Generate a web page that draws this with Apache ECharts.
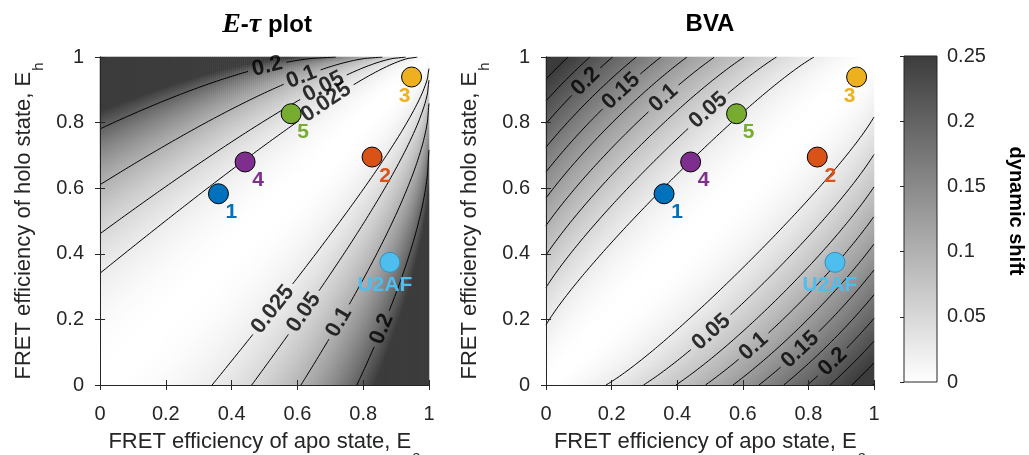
<!DOCTYPE html>
<html>
<head>
<meta charset="utf-8">
<title>Dynamic shift maps</title>
<script src="https://cdn.jsdelivr.net/npm/echarts@6/dist/echarts.min.js"></script>
<style>
  html, body { margin: 0; padding: 0; background: #ffffff; }
  #chart { width: 1029px; height: 455px; }
</style>
</head>
<body>
<div id="chart"></div>
<script>
// ---------- data ----------
const SAMPLE_NAMES  = ['1', '2', '3', '4', '5', 'U2AF'];
const SAMPLE_EA     = [0.360, 0.827, 0.947, 0.441, 0.581, 0.881];
const SAMPLE_EH     = [0.583, 0.695, 0.939, 0.680, 0.827, 0.374];
const SAMPLE_COLORS = ['#0072BD', '#D95319', '#EDB120', '#7E2F8E', '#77AC30', '#4DBEEE'];

const EFF_TICKS   = [0, 0.2, 0.4, 0.6, 0.8, 1];
const SHIFT_TICKS = [0, 0.05, 0.1, 0.15, 0.2, 0.25];

const ETAU_LEVELS = [0.025, 0.05, 0.1, 0.2];
const BVA_LEVELS  = [0.025, 0.05, 0.075, 0.1, 0.125, 0.15, 0.175, 0.2, 0.225, 0.25, 0.275];

// contour label anchors (level, Ea, Eh)
const ETAU_LABEL_LEVELS = [0.2, 0.1, 0.05, 0.025, 0.025, 0.05, 0.1, 0.2];
const ETAU_LABEL_EA     = [0.512, 0.618, 0.684, 0.689, 0.527, 0.623, 0.724, 0.861];
const ETAU_LABEL_EH     = [0.964, 0.929, 0.903, 0.858, 0.229, 0.219, 0.193, 0.168];
const BVA_LABEL_LEVELS  = [0.2, 0.15, 0.1, 0.05, 0.05, 0.1, 0.15, 0.2];
const BVA_LABEL_EA      = [0.124, 0.231, 0.358, 0.500, 0.500, 0.632, 0.769, 0.871];
const BVA_LABEL_EH      = [0.918, 0.893, 0.873, 0.832, 0.164, 0.118, 0.113, 0.072];

// photons per BVA window
const BVA_WINDOW_PHOTONS = 5;

// ---------- styling ----------
const FONT = '"Liberation Sans", Arial, Helvetica, sans-serif';
const INK = '#262626';
const SHADE_COLORS = ['#ffffff', '#3c3c3c'];
const SAMPLE_LABEL_OFFSETS = [[13, 18], [13, 19], [-7, 19], [13, 18], [12, 18], [-5, 23]];
const SAMPLE_BORDERS = ['#000', '#000', '#000', '#000', '#000', '#3a8cb8'];
const HEAT_CELLS = 164;
const CONTOUR_GRID = 240;
const CONTOUR_FONT_SIZE = 22;
const TICK_FONT_SIZE = 20;
const NAME_FONT_SIZE = 22;

// ---------- dynamic shift models ----------
// E-tau: largest perpendicular distance of the two-state dynamic line from the static line
function etauShift(ea, eh) {
  const a = Math.sqrt(Math.max(0, 1 - ea));
  const b = Math.sqrt(Math.max(0, 1 - eh));
  return (a - b) * (a - b) / Math.SQRT2;
}
// BVA: largest excess of the dynamic standard deviation over the shot-noise limit
function bvaShift(ea, eh) {
  const n = BVA_WINDOW_PHOTONS;
  const d2 = (ea - eh) * (ea - eh);
  let best = 0;
  for (let k = 1; k < 64; k++) {
    const x = k / 64;
    const m = x * ea + (1 - x) * eh;
    const s2 = Math.max(0, m * (1 - m) / n);
    const v = Math.sqrt(s2 + x * (1 - x) * d2 * (1 - 1 / n)) - Math.sqrt(s2);
    if (v > best) best = v;
  }
  return best;
}

const PLOTS = [
  { left: 100, top: 57, width: 329, height: 328, fn: etauShift, levels: ETAU_LEVELS,
    labelLevels: ETAU_LABEL_LEVELS, labelEa: ETAU_LABEL_EA, labelEh: ETAU_LABEL_EH },
  { left: 546, top: 57, width: 328, height: 328, fn: bvaShift, levels: BVA_LEVELS,
    labelLevels: BVA_LABEL_LEVELS, labelEa: BVA_LABEL_EA, labelEh: BVA_LABEL_EH }
];
const CBAR = { left: 904, top: 56, width: 33, height: 326 };

// ---------- helpers ----------
function heatData(fn) {
  const cmax = SHIFT_TICKS[SHIFT_TICKS.length - 1];
  const out = [];
  for (let i = 0; i < HEAT_CELLS; i++) {
    for (let j = 0; j < HEAT_CELLS; j++) {
      const v = fn((i + 0.5) / HEAT_CELLS, (j + 0.5) / HEAT_CELLS);
      out.push([i, j, Math.min(v, cmax)]);
    }
  }
  return out;
}

function sampleGrid(fn, M) {
  const W = M + 1;
  const v = new Float64Array(W * W);
  for (let j = 0; j <= M; j++) for (let i = 0; i <= M; i++) v[j * W + i] = fn(i / M, j / M);
  return v;
}

// marching squares, segments chained into polylines
function traceContour(vals, M, level) {
  const W = M + 1;
  const V = (i, j) => vals[j * W + i];
  const pts = new Map();
  const adj = new Map();
  function cross(i1, j1, i2, j2) {
    const a = V(i1, j1), b = V(i2, j2);
    if ((a < level) === (b < level)) return null;
    const k = i1 + ',' + j1 + ',' + i2 + ',' + j2;
    if (!pts.has(k)) {
      const t = (level - a) / (b - a);
      pts.set(k, [(i1 + t * (i2 - i1)) / M, (j1 + t * (j2 - j1)) / M]);
    }
    return k;
  }
  function link(p, q) {
    if (!adj.has(p)) adj.set(p, []);
    if (!adj.has(q)) adj.set(q, []);
    adj.get(p).push(q);
    adj.get(q).push(p);
  }
  for (let j = 0; j < M; j++) {
    for (let i = 0; i < M; i++) {
      const b = cross(i, j, i + 1, j);
      const r = cross(i + 1, j, i + 1, j + 1);
      const t = cross(i, j + 1, i + 1, j + 1);
      const l = cross(i, j, i, j + 1);
      const e = [b, r, t, l].filter(Boolean);
      if (e.length === 2) link(e[0], e[1]);
      else if (e.length === 4) {
        const c = (V(i, j) + V(i + 1, j) + V(i + 1, j + 1) + V(i, j + 1)) / 4;
        if ((c < level) === (V(i, j) < level)) { link(b, r); link(t, l); }
        else { link(l, b); link(r, t); }
      }
    }
  }
  const seen = new Set();
  const lines = [];
  function walk(start) {
    const line = [start];
    seen.add(start);
    let cur = start;
    while (true) {
      const nx = adj.get(cur).filter(n => !seen.has(n));
      if (!nx.length) break;
      cur = nx[0];
      seen.add(cur);
      line.push(cur);
    }
    if (line.length > 2 && adj.get(cur).includes(start)) line.push(start);
    return line.map(k => pts.get(k));
  }
  adj.forEach((n, k) => { if (n.length === 1 && !seen.has(k)) lines.push(walk(k)); });
  adj.forEach((n, k) => { if (!seen.has(k)) lines.push(walk(k)); });
  return lines;
}

function textHalfWidth(txt) {
  let w = 0;
  for (const ch of txt) w += (ch === '.' ? 0.278 : 0.556);
  return w * CONTOUR_FONT_SIZE / 2;
}

function placeLabel(lines, tx, ty, plot, text) {
  let best = null;
  lines.forEach((ln, li) => ln.forEach((p, pi) => {
    const dx = (p[0] - tx) * plot.width, dy = (p[1] - ty) * plot.height;
    const d = dx * dx + dy * dy;
    if (!best || d < best.d) best = { d, li, pi };
  }));
  if (!best) return { lines, label: null };
  const ln = lines[best.li];
  const a = ln[Math.max(0, best.pi - 5)], b = ln[Math.min(ln.length - 1, best.pi + 5)];
  let ang = Math.atan2((b[1] - a[1]) * plot.height, (b[0] - a[0]) * plot.width) * 180 / Math.PI;
  if (ang > 90) ang -= 180;
  if (ang <= -90) ang += 180;
  const c = ln[best.pi];
  const r = textHalfWidth(text) + 4;
  const out = [];
  lines.forEach(l => {
    let cur = [];
    l.forEach(p => {
      const dx = (p[0] - c[0]) * plot.width, dy = (p[1] - c[1]) * plot.height;
      if (dx * dx + dy * dy < r * r) { if (cur.length > 1) out.push(cur); cur = []; }
      else cur.push(p);
    });
    if (cur.length > 1) out.push(cur);
  });
  return { lines: out, label: { value: [c[0], c[1]], label: { formatter: text, rotate: ang } } };
}

// ---------- build option ----------
const cats = Array.from({ length: HEAT_CELLS }, (_, i) => String(i));
const grids = [], xAxes = [], yAxes = [], series = [];

function gridBox(b) {
  return { left: b.left, top: b.top, width: b.width, height: b.height,
           containLabel: false, outerBoundsMode: 'none' };
}

const axisNameRich = {
  m: { fontSize: NAME_FONT_SIZE, fontFamily: FONT, color: INK, lineHeight: 25, verticalAlign: 'top' },
  s: { fontSize: 15, fontFamily: FONT, color: INK, lineHeight: 15, padding: [18, 0, 0, 1], verticalAlign: 'top' }
};

PLOTS.forEach((p) => {
  // heatmap grid (category slots)
  grids.push(gridBox(p));
  const hg = grids.length - 1;
  xAxes.push({ gridIndex: hg, type: 'category', data: cats, show: false });
  yAxes.push({ gridIndex: hg, type: 'category', data: cats, show: false });
  series.push({
    type: 'heatmap', xAxisIndex: xAxes.length - 1, yAxisIndex: yAxes.length - 1,
    data: heatData(p.fn), progressive: 0, silent: true, z: 1,
    emphasis: { disabled: true }
  });
});

PLOTS.forEach((p) => {
  grids.push(gridBox(p));
  const g = grids.length - 1;
  const common = {
    gridIndex: g, type: 'value', min: EFF_TICKS[0], max: EFF_TICKS[EFF_TICKS.length - 1],
    interval: EFF_TICKS[1] - EFF_TICKS[0], z: 10,
    axisLine: { show: true, lineStyle: { color: INK, width: 1 } },
    axisTick: { show: true, inside: true, length: 5, lineStyle: { color: INK } },
    splitLine: { show: false }
  };
  xAxes.push(Object.assign({}, common, {
    position: 'bottom',
    axisLabel: { fontFamily: FONT, fontSize: TICK_FONT_SIZE, color: INK, margin: 19 },
    name: '{m|FRET efficiency of apo state, E}{s|a}', nameLocation: 'middle', nameGap: 46,
    nameTextStyle: { fontFamily: FONT, fontSize: NAME_FONT_SIZE, color: INK, rich: axisNameRich }
  }));
  const xMain = xAxes.length - 1;
  xAxes.push(Object.assign({}, common, { position: 'top', axisLabel: { show: false } }));
  yAxes.push(Object.assign({}, common, {
    position: 'left',
    axisLabel: { fontFamily: FONT, fontSize: TICK_FONT_SIZE, color: INK, margin: 16 },
    name: '{m|FRET efficiency of holo state, E}{s|h}', nameLocation: 'middle', nameGap: 62,
    nameTextStyle: { fontFamily: FONT, fontSize: NAME_FONT_SIZE, color: INK, rich: axisNameRich }
  }));
  const yMain = yAxes.length - 1;
  yAxes.push(Object.assign({}, common, { position: 'right', axisLabel: { show: false } }));

  // contour lines and their labels
  const vals = sampleGrid(p.fn, CONTOUR_GRID);
  const labelData = [];
  p.levels.forEach(level => {
    let lines = traceContour(vals, CONTOUR_GRID, level);
    p.labelLevels.forEach((lv, idx) => {
      if (lv !== level) return;
      const res = placeLabel(lines, p.labelEa[idx], p.labelEh[idx], p, String(lv));
      lines = res.lines;
      if (res.label) labelData.push(res.label);
    });
    lines.forEach(line => series.push({
      type: 'line', xAxisIndex: xMain, yAxisIndex: yMain, data: line,
      symbol: 'none', silent: true, z: 3, clip: true,
      lineStyle: { color: '#000000', width: 1 }
    }));
  });
  series.push({
    type: 'scatter', xAxisIndex: xMain, yAxisIndex: yMain, data: labelData,
    symbolSize: 1, itemStyle: { color: 'rgba(0,0,0,0)' }, silent: true, z: 5,
    label: { show: true, position: 'inside', fontFamily: FONT, fontSize: CONTOUR_FONT_SIZE,
             fontWeight: 'bold', color: '#000000' }
  });

  // samples
  series.push({
    type: 'scatter', xAxisIndex: xMain, yAxisIndex: yMain, symbolSize: 20, z: 6, silent: true,
    data: SAMPLE_NAMES.map((name, i) => ({
      value: [SAMPLE_EA[i], SAMPLE_EH[i]],
      itemStyle: { color: SAMPLE_COLORS[i], borderColor: SAMPLE_BORDERS[i], borderWidth: 1, opacity: 1 },
      label: { show: true, formatter: name, position: 'inside', offset: SAMPLE_LABEL_OFFSETS[i],
               color: SAMPLE_COLORS[i], fontFamily: FONT, fontSize: 21, fontWeight: 'bold' }
    }))
  });
});

// colour bar
grids.push(gridBox(CBAR));
const cg = grids.length - 1;
xAxes.push({ gridIndex: cg, type: 'value', min: 0, max: 1, show: false });
yAxes.push({
  gridIndex: cg, type: 'value', position: 'right', z: 10,
  min: SHIFT_TICKS[0], max: SHIFT_TICKS[SHIFT_TICKS.length - 1], interval: SHIFT_TICKS[1] - SHIFT_TICKS[0],
  axisLine: { show: false },
  axisTick: { show: true, inside: true, length: 4, lineStyle: { color: INK } },
  axisLabel: { fontFamily: FONT, fontSize: TICK_FONT_SIZE, color: INK, margin: 10 },
  splitLine: { show: false }
});
series.push({
  type: 'custom', xAxisIndex: xAxes.length - 1, yAxisIndex: yAxes.length - 1, silent: true, z: 2,
  data: [[0, SHIFT_TICKS[SHIFT_TICKS.length - 1]]],
  renderItem: function (params, api) {
    const p0 = api.coord([0, SHIFT_TICKS[0]]);
    const p1 = api.coord([1, api.value(1)]);
    return {
      type: 'rect',
      shape: { x: p0[0], y: p1[1], width: p1[0] - p0[0], height: p0[1] - p1[1] },
      style: {
        fill: new echarts.graphic.LinearGradient(0, 0, 0, 1, [
          { offset: 0, color: SHADE_COLORS[1] }, { offset: 1, color: SHADE_COLORS[0] }
        ]),
        stroke: INK, lineWidth: 1
      }
    };
  }
});

const option = {
  animation: false,
  backgroundColor: '#ffffff',
  grid: grids,
  xAxis: xAxes,
  yAxis: yAxes,
  visualMap: {
    show: false, type: 'continuous', seriesIndex: [0, 1], dimension: 2,
    min: SHIFT_TICKS[0], max: SHIFT_TICKS[SHIFT_TICKS.length - 1],
    inRange: { color: SHADE_COLORS }
  },
  graphic: [
    {
      type: 'text', x: 267, y: 25, silent: true,
      style: {
        text: '{e|E}{h|-}{e|\u03c4}{p| plot}',
        align: 'center', verticalAlign: 'middle',
        rich: {
          e: { fontFamily: '"Liberation Serif", "DejaVu Serif", serif', fontStyle: 'italic', fontWeight: 'bold', fontSize: 28, fill: '#000' },
          h: { fontFamily: FONT, fontWeight: 'bold', fontSize: 24, fill: '#000' },
          p: { fontFamily: FONT, fontWeight: 'bold', fontSize: 24, fill: '#000' }
        }
      }
    },
    {
      type: 'text', x: 710, y: 24, silent: true,
      style: { text: 'BVA', align: 'center', verticalAlign: 'middle',
               font: 'bold 24px ' + FONT, fill: '#000' }
    },
    {
      type: 'text', x: 1016, y: 211, rotation: -Math.PI / 2, silent: true,
      style: { text: 'dynamic shift', align: 'center', verticalAlign: 'middle',
               font: 'bold 20px ' + FONT, fill: '#000' }
    }
  ],
  series: series
};

const chart = echarts.init(document.getElementById('chart'), null, { renderer: 'canvas' });
chart.setOption(option);
</script>
</body>
</html>
